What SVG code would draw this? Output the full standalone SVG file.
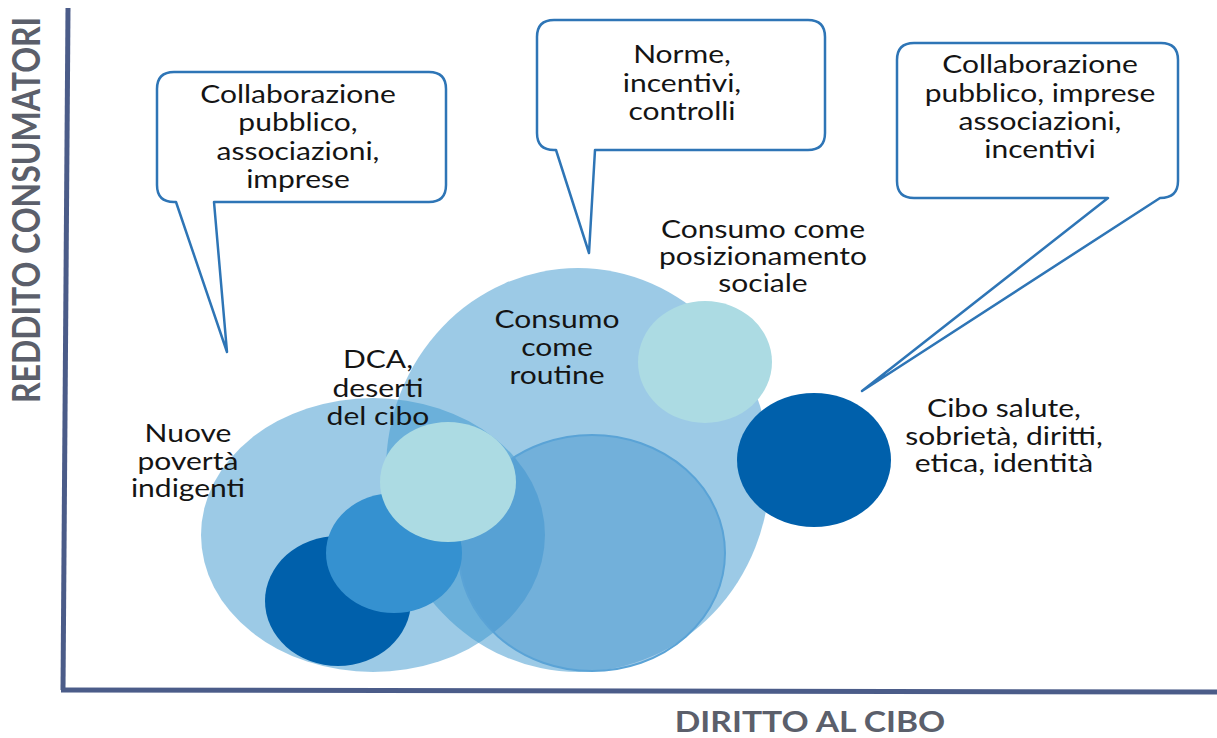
<svg xmlns="http://www.w3.org/2000/svg" width="1217" height="738" viewBox="0 0 1217 738">
<style>
.t{font-family:Lato,"Liberation Sans",sans-serif;font-size:25px;fill:#141414;text-anchor:middle}
.ax{font-family:Lato,"Liberation Sans",sans-serif;font-weight:bold;fill:#5b5f6b;text-anchor:middle}
.bub{fill:#fff;stroke:#2e75b6;stroke-width:2.5;stroke-linejoin:round}
.big{fill:#3995cd;fill-opacity:0.5}
.lite{fill:#acdbe3}
.dark{fill:#0060ab}
.mid{fill:#3591d0}
</style>
<rect width="1217" height="738" fill="#fff"/>
<g id="axes" stroke="#4b5c89" stroke-width="5" fill="none">
<line x1="68" y1="8" x2="63" y2="690"/>
<line x1="61" y1="690" x2="1217" y2="692"/>
</g>
<text class="ax" font-size="32" transform="translate(40,210) scale(1.17,1) rotate(-90)">REDDITO CONSUMATORI</text>
<text class="ax" font-size="29" transform="translate(810,732) scale(1.16,1)">DIRITTO AL CIBO</text>

<g id="circles">
<ellipse id="left-big" class="big" cx="373" cy="535" rx="172" ry="137"/>
<ellipse id="mid-big" class="big" cx="578" cy="470" rx="192" ry="202"/>
<ellipse id="overlap" cx="592" cy="553" rx="133" ry="118" fill="#4090cc" fill-opacity="0.45" stroke="#5aa3d6" stroke-width="2"/>
<ellipse id="dark-left" class="dark" cx="338" cy="601" rx="73" ry="65"/>
<ellipse id="mid-blue" class="mid" cx="394" cy="553" rx="68" ry="60"/>
<ellipse id="dca" class="lite" cx="448" cy="482" rx="68" ry="60"/>
<ellipse id="pos-soc" class="lite" cx="705" cy="362" rx="67" ry="61"/>
<ellipse id="dark-right" class="dark" cx="814" cy="460" rx="77" ry="67"/>
</g>

<g id="connectors">
<path id="bubble1" class="bub" d="M174 72 H429 Q446 72 446 89 V185 Q446 202 429 202 H214 L227 352 L176 202 H174 Q157 202 157 185 V89 Q157 72 174 72 Z"/>
<path id="bubble2" class="bub" d="M554 20 H808 Q825 20 825 37 V133 Q825 150 808 150 H595 L589 253 L556 150 H554 Q537 150 537 133 V37 Q537 20 554 20 Z"/>
<path id="bubble3" class="bub" d="M914 43 H1161 Q1178 43 1178 60 V181 Q1178 198 1160 198 L862 391 L1108 198 H914 Q897 198 897 181 V60 Q897 43 914 43 Z"/>
</g>

<g id="node-bubble1" transform="matrix(1.2 0 0 1 -59.6 0)">
<text class="t" x="298" y="103">Collaborazione</text>
<text class="t" x="298" y="131">pubblico,</text>
<text class="t" x="298" y="160">associazioni,</text>
<text class="t" x="298" y="188">imprese</text>
</g>
<g id="node-bubble2" transform="matrix(1.2 0 0 1 -136.4 0)">
<text class="t" x="682" y="63">Norme,</text>
<text class="t" x="682" y="92">incentivi,</text>
<text class="t" x="682" y="120">controlli</text>
</g>
<g id="node-bubble3" transform="matrix(1.2 0 0 1 -208 0)">
<text class="t" x="1040" y="73">Collaborazione</text>
<text class="t" x="1040" y="102">pubblico, imprese</text>
<text class="t" x="1040" y="130">associazioni,</text>
<text class="t" x="1040" y="158">incentivi</text>
</g>
<g id="node-posizionamento" transform="matrix(1.2 0 0 1 -152.6 0)">
<text class="t" x="763" y="238">Consumo come</text>
<text class="t" x="763" y="265">posizionamento</text>
<text class="t" x="763" y="292">sociale</text>
</g>
<g id="node-routine" transform="matrix(1.2 0 0 1 -111.4 0)">
<text class="t" x="557" y="328">Consumo</text>
<text class="t" x="557" y="356">come</text>
<text class="t" x="557" y="384">routine</text>
</g>
<g id="node-dca" transform="matrix(1.2 0 0 1 -75.6 0)">
<text class="t" x="378" y="368">DCA,</text>
<text class="t" x="378" y="397">deserti</text>
<text class="t" x="378" y="425">del cibo</text>
</g>
<g id="node-poverta" transform="matrix(1.2 0 0 1 -37.6 0)">
<text class="t" x="188" y="442">Nuove</text>
<text class="t" x="188" y="470">povertà</text>
<text class="t" x="188" y="497">indigenti</text>
</g>
<g id="node-cibo" transform="matrix(1.2 0 0 1 -200.8 0)">
<text class="t" x="1004" y="417">Cibo salute,</text>
<text class="t" x="1004" y="445">sobrietà, diritti,</text>
<text class="t" x="1004" y="472">etica, identità</text>
</g>
</svg>
